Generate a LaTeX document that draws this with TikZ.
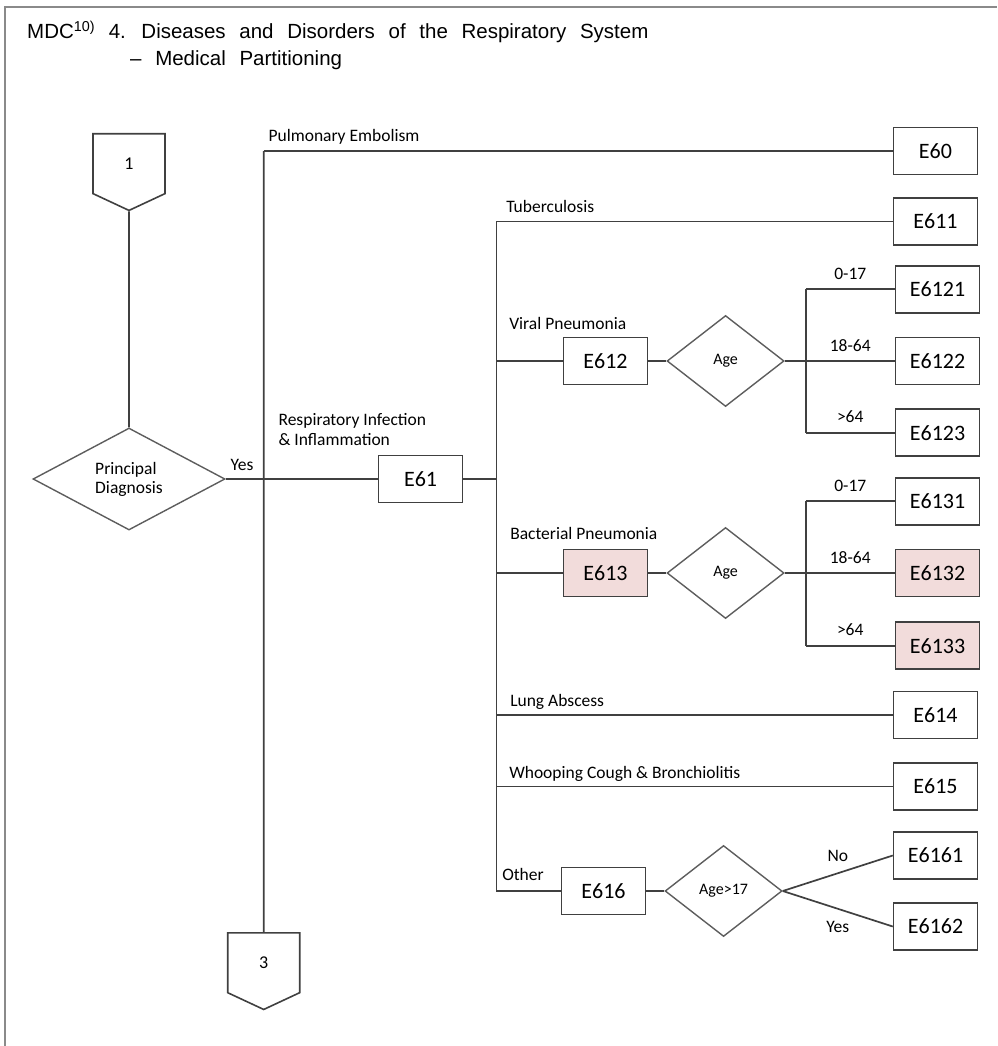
\documentclass[tikz,border=0pt]{standalone}
\usepackage{fontspec}
\setmainfont{Carlito}
\newfontfamily\titlefont[WordSpace=2.4]{Liberation Sans}
\usetikzlibrary{positioning,shapes.geometric,shapes.symbols}

\definecolor{linegray}{HTML}{404040}
\definecolor{framegray}{HTML}{8A8A8A}
\definecolor{hilite}{HTML}{F2DCDB}

\begin{document}
\begin{tikzpicture}[
  x=1pt, y=-1pt,
  code/.style={draw=linegray, line width=1.7pt, minimum width=84pt, minimum height=47pt, inner sep=0pt, font=\fontsize{22}{26}\selectfont},
  hot/.style={code, fill=hilite},
  decision/.style={draw=linegray!85, line width=1.4pt, diamond, aspect=1.29, minimum width=117pt, minimum height=91pt, inner sep=0pt, align=left, font=\fontsize{16}{19}\selectfont},
  link/.style={draw=linegray, line width=1.6pt, signal, signal to=south, signal pointer angle=130, minimum width=72pt, minimum height=62pt, inner sep=0pt, font=\fontsize{18}{20}\selectfont},
  flow/.style={draw=linegray, line width=1.7pt},
  lbl/.style={font=\fontsize{17.5}{20}\selectfont, inner sep=0pt},
  branch/.style={lbl, anchor=base west, xshift=9pt, yshift=9pt},
  tag/.style={lbl, anchor=base, yshift=10pt}
]
\useasboundingbox (0,0) rectangle (997,1046);
\draw[framegray, line width=2.5pt] (5,1046) -- (5,7) -- (997,7);

% heading
\node[anchor=base west, inner sep=0pt, font=\titlefont\fontsize{20.5}{24}\selectfont] (title) at (27,39) {MDC\textsuperscript{10)} 4. Diseases and Disorders of the Respiratory System};
\node[anchor=base west, inner sep=0pt, font=\titlefont\fontsize{20.5}{24}\selectfont] (subtitle) at (130,66) {– Medical Partitioning};

% left part
\node[decision, aspect=1.88, minimum width=192pt, minimum height=102pt, font=\fontsize{17.5}{19}\selectfont] (pd) at (129,479) {Principal\\Diagnosis};
\node[link, above=216pt of pd] (c1) {1};
\coordinate[right=38pt of pd] (split);
\node[link, below=453pt of split] (c3) {3};
\node[code, right=114pt of split] (e61) {E61};
\coordinate[right=33pt of e61] (trunk);

% right column
\node[code] (e60) at (935.5,151) {E60};
\node[code] (e611) at (935.5,221.5) {E611};
\node[code] (e614) at (935.5,715) {E614};
\node[code] (e615) at (935.5,786.5) {E615};

% viral pneumonia
\node[code] (e612) at (605.5,361) {E612};
\node[decision, right=18pt of e612] (age1) {Age};
\coordinate[right=21pt of age1] (fork1);
\node[code, right=110pt of age1] (e6122) {E6122};
\node[code, above=23pt of e6122] (e6121) {E6121};
\node[code, below=23pt of e6122] (e6123) {E6123};

% bacterial pneumonia
\node[hot] (e613) at (605.5,573) {E613};
\node[decision, right=18pt of e613] (age2) {Age};
\coordinate[right=21pt of age2] (fork2);
\node[hot, right=110pt of age2] (e6132) {E6132};
\node[code, above=23pt of e6132] (e6131) {E6131};
\node[hot, below=24pt of e6132] (e6133) {E6133};

% other
\node[code] (e616) at (603.5,891) {E616};
\node[decision, right=18pt of e616] (age3) {Age>17};
\node[code, right=110pt of age3, yshift=35.5pt] (e6161) {E6161};
\node[code, right=110pt of age3, yshift=-35.5pt] (e6162) {E6162};

\draw[flow] (c1) -- (pd);
\draw[flow] (pd) -- node[lbl, pos=0, anchor=base west, xshift=4pt, yshift=9pt]{Yes} (split);
\draw[flow] (split) -- node[lbl, pos=0, anchor=south west, align=left, xshift=14pt, yshift=33pt]{Respiratory Infection\\\& Inflammation} (e61);
\draw[flow] (split |- e60) -- (c3);
\draw[flow] (split |- e60) -- node[branch, pos=0, xshift=-5pt]{Pulmonary Embolism} (e60);
\draw[flow] (e61) -- (trunk);
\draw[flow] (trunk |- e611) -- (trunk |- e616);
\draw[flow] (trunk |- e611) -- node[branch, pos=0]{Tuberculosis} (e611);
\draw[flow] (trunk |- e612) -- node[branch, pos=0, xshift=3pt, yshift=23pt]{Viral Pneumonia} (e612);
\draw[flow] (e612) -- (age1);
\draw[flow] (age1) -- (fork1) -- node[tag]{18-64} (e6122);
\draw[flow] (fork1 |- e6121) -- (fork1 |- e6123);
\draw[flow] (fork1 |- e6121) -- node[tag]{0-17} (e6121);
\draw[flow] (fork1 |- e6123) -- node[tag]{>64} (e6123);
\draw[flow] (trunk |- e613) -- node[branch, pos=0, xshift=4pt, yshift=25pt]{Bacterial Pneumonia} (e613);
\draw[flow] (e613) -- (age2);
\draw[flow] (age2) -- (fork2) -- node[tag]{18-64} (e6132);
\draw[flow] (fork2 |- e6131) -- (fork2 |- e6133);
\draw[flow] (fork2 |- e6131) -- node[tag]{0-17} (e6131);
\draw[flow] (fork2 |- e6133) -- node[tag]{>64} (e6133);
\draw[flow] (trunk |- e614) -- node[branch, pos=0, xshift=4pt]{Lung Abscess} (e614);
\draw[flow] (trunk |- e615) -- node[branch, pos=0, xshift=3pt, yshift=-1pt]{Whooping Cough \& Bronchiolitis} (e615);
\draw[flow] (trunk |- e616) -- node[branch, pos=0, xshift=-4pt, yshift=2pt]{Other} (e616);
\draw[flow] (e616) -- (age3);
\draw[flow] (age3.east) -- node[lbl, above=11pt]{No} (e6161.west);
\draw[flow] (age3.east) -- node[lbl, below=12pt]{Yes} (e6162.west);
\end{tikzpicture}
\end{document}
